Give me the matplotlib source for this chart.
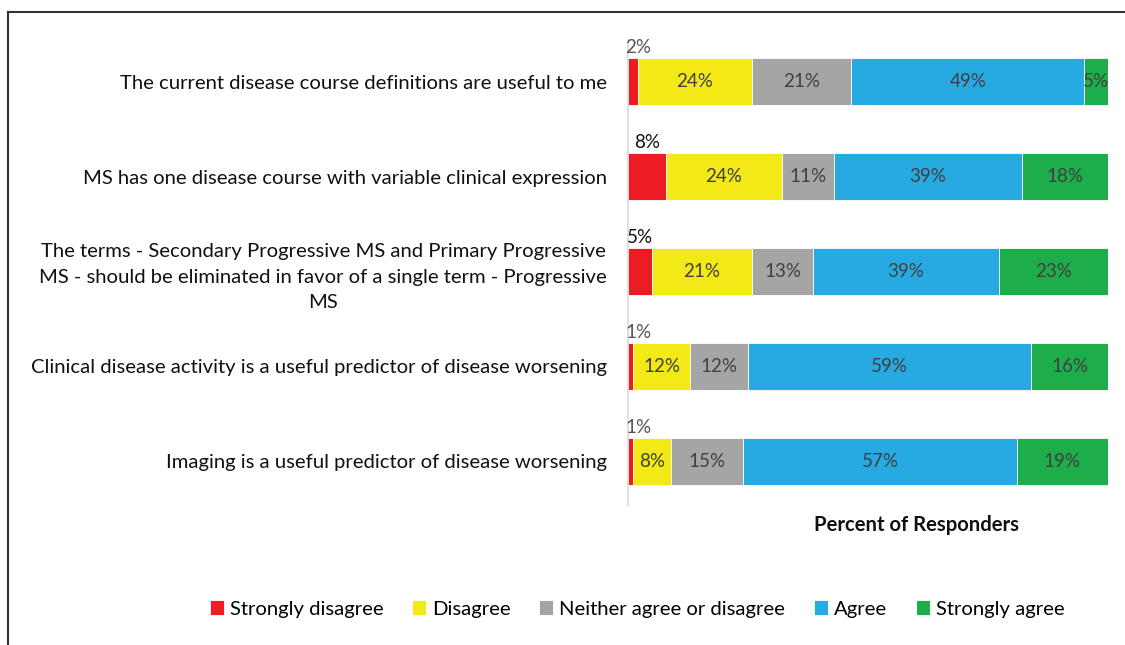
import matplotlib.pyplot as plt
import numpy as np
from matplotlib.lines import Line2D

plt.rcParams['font.family'] = ['Lato', 'DejaVu Sans']

# statements (top to bottom) and percent of responders for each answer
statements = [
    'The current disease course definitions are useful to me',
    'MS has one disease course with variable clinical expression',
    'The terms - Secondary Progressive MS and Primary Progressive\n'
    'MS - should be eliminated in favor of a single term - Progressive\nMS',
    'Clinical disease activity is a useful predictor of disease worsening',
    'Imaging is a useful predictor of disease worsening',
]
categories = ['Strongly disagree', 'Disagree', 'Neither agree or disagree',
              'Agree', 'Strongly agree']
strongly_disagree = [2, 8, 5, 1, 1]
disagree = [24, 24, 21, 12, 8]
neither = [21, 11, 13, 12, 15]
agree = [49, 39, 39, 59, 57]
strongly_agree = [5, 18, 23, 16, 19]

colors = ['#ED1C24', '#F2E917', '#A5A5A5', '#27AAE1', '#1DAD4B']

series = np.array([strongly_disagree, disagree, neither, agree, strongly_agree],
                  dtype=float)
totals = series.sum(axis=0)
widths = series / totals * 100  # each bar fills the full width

fig = plt.figure(figsize=(11.25, 6.45), dpi=100)
ax = fig.add_axes([628 / 1125, 1 - 505 / 645, 480 / 1125, 465 / 645])

y = np.arange(len(statements))
left = np.zeros(len(statements))
for k, (name, col) in enumerate(zip(categories, colors)):
    ax.barh(y, widths[k], left=left, height=0.5, color=col, label=name,
            edgecolor='white', linewidth=0.6)
    for i in range(len(statements)):
        val = int(series[k, i])
        cx = left[i] + widths[k, i] / 2
        if k == 0:
            ax.text(max(cx, 2.1), y[i] - 0.36, f'{val}%', ha='center',
                    va='center', fontsize=13.5,
                    color='#111111' if val >= 5 else '#555555')
        else:
            ax.text(cx, y[i], f'{val}%', ha='center', va='center',
                    fontsize=13.5, color='#404040')
    left += widths[k]

ax.set_xlim(0, 100)
ax.set_ylim(4.46, -0.44)
ax.set_yticks(y)
ax.set_yticklabels(statements, fontsize=14.6, color='#111111')
for t in ax.get_yticklabels():
    t.set_multialignment('center')
    t.set_linespacing(1.6)
ax.tick_params(axis='y', length=0, pad=15)
ax.set_xticks([])
for s in ['top', 'right', 'bottom']:
    ax.spines[s].set_visible(False)
ax.spines['left'].set_color('#d9d9d9')
ax.spines['left'].set_linewidth(1.2)

fig.text(916 / 1125, 1 - 525 / 645, 'Percent of Responders', ha='center',
         va='center', fontsize=14.6, fontweight='bold', color='#111111')

fig.legend(loc='center', bbox_to_anchor=(637 / 1125, 1 - 609 / 645), ncol=5,
           frameon=False, fontsize=14.6, handlelength=0.7, handleheight=0.7,
           handletextpad=0.3, columnspacing=1.4)

# frame lines on the left and top of the picture
fig.add_artist(Line2D([8 / 1125, 8 / 1125], [0, 1 - 12 / 645],
                      transform=fig.transFigure, color='#333333', lw=1.5))
fig.add_artist(Line2D([8 / 1125, 1], [1 - 12 / 645, 1 - 12 / 645],
                      transform=fig.transFigure, color='#333333', lw=1.5))

fig.savefig('out.png', dpi=100)
